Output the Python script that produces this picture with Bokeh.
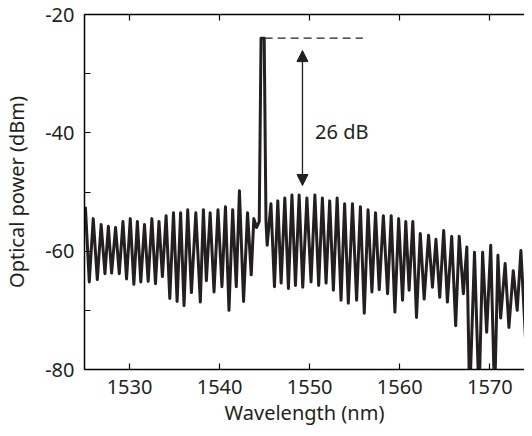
from bokeh.plotting import figure
from bokeh.models import Range1d, LinearAxis, FixedTicker, Arrow, NormalHead, Label
from bokeh.embed import file_html
from bokeh.resources import INLINE

# Spectrum (alternating peaks / troughs)
wavelength = [
    1525.1, 1525.53, 1525.97, 1526.42, 1526.85, 1527.27, 1527.65, 1528.01, 1528.45, 1528.86,
    1529.27, 1529.67, 1530.08, 1530.48, 1530.87, 1531.25, 1531.66, 1532.07, 1532.48, 1532.88,
    1533.27, 1533.65, 1534.06, 1534.47, 1534.88, 1535.28, 1535.67, 1536.05, 1536.46, 1536.87,
    1537.36, 1537.86, 1538.2, 1538.53, 1538.95, 1539.38, 1539.82, 1540.26, 1540.65, 1541.04,
    1541.45, 1541.85, 1542.2, 1542.66, 1543.1, 1543.51, 1543.8, 1544.1, 1544.4, 1544.6,
    1544.95, 1545.15, 1545.28, 1545.7, 1546.09, 1546.46, 1546.83, 1547.24, 1547.64, 1548.03,
    1548.42, 1548.83, 1549.23, 1549.69, 1550.15, 1550.58, 1551.0, 1551.41, 1551.82, 1552.22,
    1552.63, 1553.05, 1553.48, 1553.88, 1554.29, 1554.75, 1555.21, 1555.63, 1556.06, 1556.48,
    1556.91, 1557.31, 1557.72, 1558.18, 1558.65, 1559.05, 1559.46, 1559.88, 1560.31, 1560.67,
    1561.04, 1561.45, 1561.86, 1562.28, 1562.71, 1563.2, 1563.63, 1564.02, 1564.44, 1564.88,
    1565.29, 1565.77, 1566.21, 1566.6, 1567.06, 1567.45, 1567.76, 1568.3, 1568.8, 1569.2,
    1569.65, 1570.1, 1570.53, 1570.9, 1571.2, 1571.7, 1572.12, 1572.6, 1573.04, 1573.45,
    1573.96, 1574.4,
]
power = [
    -52.5, -65.2, -54.5, -64.8, -55.5, -63.8, -55.8, -63.7, -56.0, -63.8,
    -55.0, -64.7, -54.5, -65.6, -55.0, -65.2, -55.5, -65.1, -54.5, -65.5,
    -55.0, -64.3, -54.0, -68.0, -53.5, -68.5, -53.5, -69.2, -53.0, -67.0,
    -53.5, -68.6, -53.0, -65.0, -53.5, -66.9, -53.0, -66.0, -52.5, -70.0,
    -53.0, -66.0, -49.8, -68.5, -53.5, -64.0, -54.5, -56.0, -55.0, -24.0,
    -24.0, -55.0, -59.0, -52.0, -66.0, -51.5, -65.4, -51.0, -66.3, -50.5,
    -65.8, -50.5, -66.1, -51.0, -65.2, -50.5, -65.8, -51.0, -65.4, -51.5,
    -66.6, -51.0, -68.3, -52.0, -68.8, -52.0, -68.3, -52.5, -70.5, -53.0,
    -66.9, -53.5, -66.5, -54.0, -67.2, -54.0, -70.3, -54.5, -68.3, -55.0,
    -66.6, -55.0, -71.2, -57.0, -68.1, -57.3, -66.1, -58.0, -67.8, -56.5,
    -68.6, -57.5, -72.6, -57.5, -67.2, -59.3, -85.0, -60.2, -85.0, -60.2,
    -73.7, -59.0, -85.0, -60.7, -71.3, -62.1, -72.9, -63.3, -70.0, -59.9,
    -74.8, -62.0,
]

x_ticks = [1530, 1540, 1550, 1560, 1570]
y_ticks = [-80, -70, -60, -50, -40, -30, -20]
y_tick_labels = {-80: "-80", -70: "", -60: "-60", -50: "", -40: "-40", -30: "", -20: "-20"}
top_tick_labels = {1530: "", 1540: "", 1550: "", 1560: "", 1570: ""}

# Annotation values
peak_level = [-24.0]
dash_start = [1545.0]
dash_end = [1555.9]
arrow_x = 1549.2
arrow_top = -26.1
arrow_bottom = -48.9
annotation_text = "26 dB"
annotation_x = 1550.6
annotation_y = -39.8

FONT = "Noto Sans"
INK = "#231f20"

p = figure(width=524, height=428, output_backend="svg", toolbar_location=None,
           x_range=Range1d(1525, 1573.85), y_range=Range1d(-80, -20),
           min_border_left=83, min_border_right=0, min_border_top=14, min_border_bottom=10,
           x_axis_label="Wavelength (nm)", y_axis_label="Optical power (dBm)")
p.outline_line_color = None
p.grid.visible = False
p.background_fill_color = "white"
p.border_fill_color = "white"

p.line(wavelength, power, line_color=INK, line_width=3, line_join="round")

p.segment(x0=dash_start, y0=peak_level, x1=dash_end, y1=peak_level,
          line_color=INK, line_width=1.3, line_dash="8 5")

p.add_layout(Arrow(x_start=arrow_x, y_start=arrow_bottom, x_end=arrow_x, y_end=arrow_top,
                   line_color=INK, line_width=1.3,
                   start=NormalHead(size=11, fill_color=INK, line_color=INK),
                   end=NormalHead(size=11, fill_color=INK, line_color=INK)))

p.add_layout(Label(x=annotation_x, y=annotation_y, text=annotation_text,
                   text_font=FONT, text_font_size="20px", text_color=INK,
                   text_baseline="middle", text_align="left"))

xa = p.xaxis[0]
xa.ticker = FixedTicker(ticks=x_ticks)
ya = p.yaxis[0]
ya.ticker = FixedTicker(ticks=y_ticks)
ya.major_label_overrides = y_tick_labels

for ax in (xa, ya):
    ax.axis_line_color = "black"
    ax.axis_line_width = 1.5
    ax.major_tick_in = 6
    ax.major_tick_out = 0
    ax.major_tick_line_color = "black"
    ax.major_tick_line_width = 1.2
    ax.minor_tick_line_color = None
    ax.major_label_text_font = FONT
    ax.major_label_text_font_size = "20px"
    ax.major_label_text_color = INK
    ax.axis_label_text_font = FONT
    ax.axis_label_text_font_size = "20px"
    ax.axis_label_text_font_style = "normal"
    ax.axis_label_text_color = INK

xa.major_label_standoff = 10
xa.axis_label_standoff = 2
ya.major_label_standoff = 10
ya.axis_label_standoff = 12

top = LinearAxis(ticker=FixedTicker(ticks=x_ticks))
top.major_label_overrides = top_tick_labels
top.axis_line_color = "black"
top.axis_line_width = 1.5
top.major_tick_in = 6
top.major_tick_out = 0
top.major_tick_line_width = 1.2
top.minor_tick_line_color = None
top.major_label_text_font_size = "4px"
top.major_label_standoff = 0
p.add_layout(top, "above")

open("out.html", "w").write(file_html(p, INLINE))
